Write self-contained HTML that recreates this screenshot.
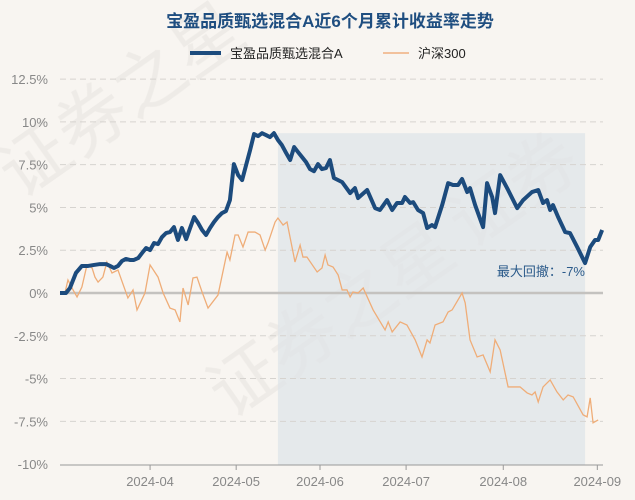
<!DOCTYPE html>
<html><head><meta charset="utf-8">
<style>
body{margin:0;background:#f8f5f1;}
svg{display:block;font-family:"Liberation Sans","Noto Sans CJK SC",sans-serif;}
</style></head>
<body>
<svg id="chart" width="635" height="500">
<rect width="635" height="500" fill="#f8f5f1"/>
<g id="wm" fill="#ece9e5" font-size="70" opacity="0.8">
<text x="20" y="200" transform="rotate(-35 20 200)">证券之星</text>
<text x="230" y="420" transform="rotate(-35 230 420)">证券之星</text>
<text x="470" y="250" transform="rotate(-35 470 250)">证券</text>
</g>
<text x="330" y="27" text-anchor="middle" font-size="17" font-weight="bold" fill="#1f4e80">宝盈品质甄选混合A近6个月累计收益率走势</text>
<g>
<g>
<line x1="190" y1="53" x2="221" y2="53" stroke="#1c4b7d" stroke-width="4"/>
<text x="230" y="58" font-size="13" fill="#222">宝盈品质甄选混合A</text></g>
<g>
<line x1="383" y1="53" x2="409" y2="53" stroke="#f0b080" stroke-width="1.5"/>
<text x="418" y="58" font-size="13" fill="#222">沪深300</text></g>
</g>
<g id="plot"></g>
</svg>
<script>
const yTicks=[12.5,10,7.5,5,2.5,0,-2.5,-5,-7.5,-10];
const yTickLabels=["12.5%","10%","7.5%","5%","2.5%","0%","-2.5%","-5%","-7.5%","-10%"];
const xTicks=[31.7,62.0,91.5,121.8,156.0,189.1];
const xTickLabels=["2024-04","2024-05","2024-06","2024-07","2024-08","2024-09"];
const fundDays=[0,2.1,3.5,5.6,7.7,9.9,12.0,14.1,16.2,17.6,19.0,20.4,21.8,23.2,24.6,26.0,27.5,28.9,30.3,31.7,33.1,34.5,35.9,37.3,38.7,40.1,41.5,42.9,44.4,45.8,47.2,48.6,50.0,51.4,52.8,54.2,55.6,57.0,58.4,59.8,61.2,62.7,64.1,65.5,66.9,68.3,69.7,71.1,72.5,73.9,75.3,76.7,78.1,79.6,81.0,82.4,83.8,85.2,86.6,88.0,89.4,90.8,92.2,93.6,95.0,96.4,99.3,102.1,103.8,104.9,108.1,110.9,112.6,115.1,116.9,118.6,120.4,121.4,123.2,124.3,126.0,127.8,129.2,130.9,132.0,134.5,136.6,138.3,140.1,141.5,143.3,144.3,146.1,148.9,150.3,152.1,153.1,154.9,157.7,160.9,163.0,166.1,168.3,170.0,171.4,172.5,173.5,175.3,177.8,179.5,182.0,184.8,186.6,188.3,189.4,190.8];
const fundValues=[0,0,.29,1.17,1.58,1.58,1.64,1.69,1.69,1.58,1.46,1.58,1.87,1.99,1.93,1.93,2.04,2.34,2.63,2.51,2.92,2.86,3.27,3.50,3.56,3.85,3.10,3.80,3.15,3.80,4.44,4.09,3.68,3.39,3.80,4.15,4.44,4.67,4.79,5.43,7.53,6.89,6.60,7.48,8.35,9.29,9.17,9.34,9.23,9.11,9.34,8.94,8.64,8.18,7.77,8.53,8.23,7.94,7.65,7.24,7.12,7.53,7.24,7.30,7.77,6.72,6.48,5.84,6.13,5.55,6.02,4.96,4.85,5.43,4.85,5.26,5.26,5.61,5.26,5.31,4.85,4.67,3.80,3.97,3.85,5.14,6.42,6.31,6.31,6.66,5.90,6.13,5.14,3.85,6.42,5.61,4.67,6.89,6.02,4.96,5.43,5.90,6.02,5.26,5.43,4.85,5.14,4.44,3.56,3.50,2.69,1.75,2.69,3.10,3.10,3.68];
const hsDays=[0,1.8,2.8,4.6,6.0,7.7,9.5,11.3,12.3,13.4,15.1,16.5,18.3,20.4,23.9,25.7,27.1,29.9,31.7,34.5,36.3,38.7,40.5,42.2,43.3,45.1,46.8,48.2,50.0,52.1,55.6,58.8,59.8,61.6,62.7,64.4,66.2,68.6,70.4,72.2,73.2,75.7,76.7,78.5,79.9,82.7,84.5,85.5,86.9,90.5,92.2,93.3,94.3,96.1,97.9,99.3,101.0,102.1,103.1,104.9,106.7,110.2,114.4,115.5,116.9,119.7,122.1,125.0,127.4,129.2,130.2,132.0,134.8,136.6,138.0,141.5,142.6,144.3,146.8,148.9,151.4,153.1,154.9,157.7,161.9,164.4,166.1,167.2,168.3,170.0,172.5,174.9,177.1,178.8,180.6,184.1,185.5,186.6,187.6,189.4];
const hsValues=[0,.06,.76,.18,-.23,.35,1.64,1.46,.93,.64,.93,1.81,1.17,1.34,-.29,.18,-.99,0,1.64,.93,0,-.88,-.99,-1.69,.29,-.70,.88,.93,.06,-.88,-.12,2.39,1.93,3.39,3.39,2.69,3.56,3.56,3.39,2.51,2.92,4.15,4.38,3.97,4.15,1.81,2.80,2.10,2.10,1.23,1.46,2.22,1.64,1.52,1.05,.18,.18,-.23,.06,0,.29,-.99,-2.16,-1.69,-2.28,-1.69,-1.87,-2.74,-3.74,-2.74,-2.92,-1.87,-1.69,-1.11,-.99,0,-.58,-2.74,-3.74,-3.62,-4.61,-2.74,-3.33,-5.49,-5.49,-5.84,-5.96,-5.78,-6.37,-5.49,-5.08,-5.78,-6.25,-5.96,-6.07,-7.12,-7.24,-6.13,-7.59,-7.42];
const drawdownStart=76.7, drawdownEnd=184.8;

const X0=60, X1=603, DMAX=191.1;
const xs=d=>X0+d*(X1-X0)/DMAX;
const ys=v=>293-v*(385/22.5);
const NS="http://www.w3.org/2000/svg";
const plot=document.getElementById('plot');
function mk(tag,attrs,parent){const e=document.createElementNS(NS,tag);for(const k in attrs)e.setAttribute(k,attrs[k]);(parent||plot).appendChild(e);return e;}

const shade=mk('rect',{x:xs(drawdownStart),y:ys(9.34),width:xs(drawdownEnd)-xs(drawdownStart),height:465-ys(9.34),fill:'#dfe4e8',opacity:0.75});



yTicks.forEach((t,i)=>{
  if(t!==0&&t!==-10){const g=mk('line',{x1:X0,x2:X1,y1:ys(t),y2:ys(t),stroke:'#d6d3cf','stroke-dasharray':'6,4'});
  
  }
  const l=mk('text',{x:48,y:ys(t)+5,'text-anchor':'end','font-size':13,fill:'#888'});
  l.textContent=yTickLabels[i];
  
  
});
const zl=mk('line',{x1:X0,x2:X1,y1:ys(0),y2:ys(0),stroke:'#c4c2bf','stroke-width':2.5});


const ax=mk('line',{x1:X0,x2:X1,y1:465,y2:465,stroke:'#999'});


xTicks.forEach((t,i)=>{
  mk('line',{x1:xs(t),x2:xs(t),y1:465,y2:470,stroke:'#999'});
  const l=mk('text',{x:xs(t),y:486,'text-anchor':'middle','font-size':13,fill:'#888'});
  l.textContent=xTickLabels[i];
  
  
});
const hs=mk('polyline',{points:hsDays.map((d,i)=>xs(d)+','+ys(hsValues[i])).join(' '),fill:'none',stroke:'#efad78','stroke-width':1.3});


const fd=mk('polyline',{points:fundDays.map((d,i)=>xs(d)+','+ys(fundValues[i])).join(' '),fill:'none',stroke:'#1c4b7d','stroke-width':4,'stroke-linejoin':'round'});


const dl=mk('text',{x:585,y:276,'text-anchor':'end','font-size':13,fill:'#2a5a8a'});
dl.textContent='最大回撤：-7%';


</script>
</body></html>
